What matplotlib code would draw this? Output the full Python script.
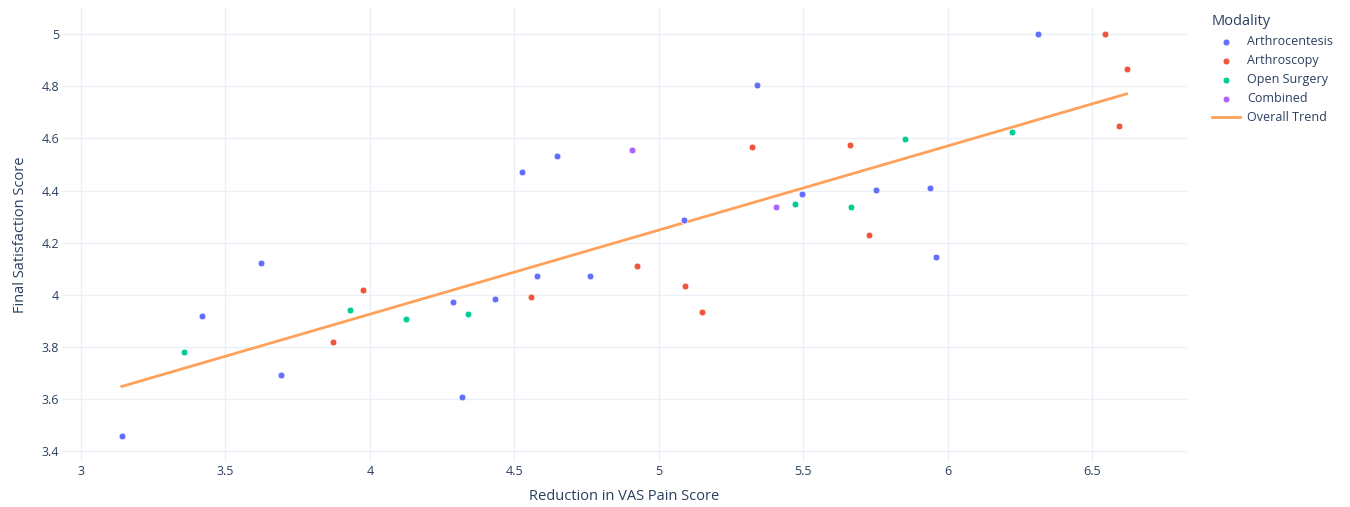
import matplotlib

matplotlib.use("Agg")
import matplotlib.pyplot as plt
import numpy as np

# --- data ---
modalities = ["Arthrocentesis", "Arthroscopy", "Open Surgery", "Combined"]

arthrocentesis_x = [3.142, 3.420, 3.625, 3.693, 4.287, 4.320, 4.434, 4.525, 4.578,
                    4.649, 4.761, 5.088, 5.340, 5.496, 5.752, 5.939, 5.960, 6.310]
arthrocentesis_y = [3.459, 3.919, 4.123, 3.693, 3.974, 3.608, 3.983, 4.470, 4.073,
                    4.534, 4.071, 4.286, 4.805, 4.386, 4.402, 4.410, 4.146, 5.000]

arthroscopy_x = [3.873, 3.976, 4.557, 4.924, 5.090, 5.149, 5.321, 5.661, 5.728,
                 6.544, 6.618, 6.593]
arthroscopy_y = [3.819, 4.017, 3.993, 4.111, 4.034, 3.933, 4.566, 4.575, 4.231,
                 5.000, 4.867, 4.649]

open_x = [3.356, 3.933, 4.125, 4.339, 5.472, 5.664, 5.851, 6.221]
open_y = [3.782, 3.942, 3.908, 3.926, 4.350, 4.338, 4.598, 4.626]

combined_x = [4.908, 5.406]
combined_y = [4.556, 4.336]

x_ticks = [3, 3.5, 4, 4.5, 5, 5.5, 6, 6.5]
y_ticks = [3.4, 3.6, 3.8, 4.0, 4.2, 4.4, 4.6, 4.8, 5.0]

COLORS = ["#636efa", "#EF553B", "#00cc96", "#ab63fa"]
TREND_C = "#FFA15A"
TEXT_C = "#2a3f5f"
GRID_C = "#EBF0F8"

plt.rcParams["font.family"] = ["Open Sans", "DejaVu Sans"]

fig = plt.figure(figsize=(13.5, 5.07), dpi=100)
ax = fig.add_axes([62 / 1350, 1 - 462 / 507, 1125 / 1350, 454 / 507])

series = [(arthrocentesis_x, arthrocentesis_y), (arthroscopy_x, arthroscopy_y),
          (open_x, open_y), (combined_x, combined_y)]
for name, (xs, ys), c in zip(modalities, series, COLORS):
    ax.scatter(xs, ys, s=24, color=c, edgecolor="white", linewidth=0.5,
               label=name, zorder=3)

# overall OLS trend across all points
all_x = np.concatenate([np.array(s[0]) for s in series])
all_y = np.concatenate([np.array(s[1]) for s in series])
slope, icpt = np.polyfit(all_x, all_y, 1)
tx = np.array([all_x.min(), all_x.max()])
ax.plot(tx, slope * tx + icpt, color=TREND_C, lw=2, label="Overall Trend", zorder=2)

ax.set_xlim(2.935, 6.827)
ax.set_ylim(3.358, 5.101)
ax.set_xticks(x_ticks)
ax.set_xticklabels([f"{v:g}" for v in x_ticks])
ax.set_yticks(y_ticks)
ax.set_yticklabels([f"{v:g}" for v in y_ticks])
ax.grid(color=GRID_C, lw=1)
ax.set_axisbelow(True)
for sp in ax.spines.values():
    sp.set_visible(False)
ax.tick_params(length=0, colors=TEXT_C, labelsize=9)
ax.tick_params(axis="x", pad=2)
ax.tick_params(axis="y", pad=2)

ax.set_xlabel("Reduction in VAS Pain Score", fontsize=10.5, color=TEXT_C, labelpad=8)
ax.set_ylabel("Final Satisfaction Score", fontsize=10.5, color=TEXT_C, labelpad=10)

leg = ax.legend(loc="upper left", bbox_to_anchor=(1207 / 1350, 1 - 9 / 507),
                bbox_transform=fig.transFigure, frameon=False, title="Modality",
                fontsize=9, title_fontsize=10.5, handlelength=2.2,
                handletextpad=0.6, labelspacing=0.48, borderaxespad=0)
leg._legend_box.align = "left"
for t in leg.get_texts():
    t.set_color(TEXT_C)
leg.get_title().set_color(TEXT_C)

fig.savefig("out.png", dpi=100)
